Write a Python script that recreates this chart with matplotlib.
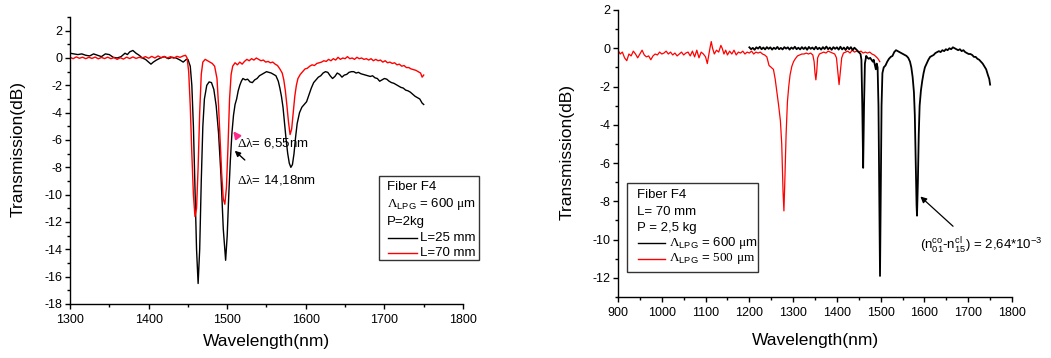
import matplotlib
matplotlib.use("Agg")
import matplotlib.pyplot as plt
from matplotlib.patches import Rectangle
from matplotlib.lines import Line2D
from matplotlib.ticker import MultipleLocator

plt.rcParams['font.family'] = ['Liberation Sans', 'DejaVu Sans']
plt.rcParams['axes.unicode_minus'] = False
plt.rcParams['mathtext.fontset'] = 'custom'
plt.rcParams['mathtext.rm'] = 'Liberation Sans'
plt.rcParams['mathtext.it'] = 'Liberation Sans:italic'
plt.rcParams['mathtext.sf'] = 'Liberation Sans'
plt.rcParams['mathtext.cal'] = 'Liberation Serif'

# ---------------- Left panel data (Fiber F4, P=2kg) ----------------
wl_L25 = [1300, 1305, 1310, 1315, 1320, 1325, 1330, 1335, 1340, 1345, 1350, 1355, 1360, 1365,
          1370, 1373, 1376, 1380, 1384, 1388, 1392, 1396, 1400, 1403, 1406, 1410, 1415, 1420,
          1425, 1430, 1435, 1440, 1444, 1448, 1450, 1453, 1455, 1457, 1459, 1461, 1463, 1465,
          1467, 1469, 1471, 1474, 1477, 1480, 1483, 1486, 1489, 1492, 1495, 1498, 1500, 1502,
          1504, 1506, 1508, 1510, 1512, 1514, 1516, 1518, 1520, 1523, 1526, 1529, 1532, 1535,
          1538, 1541, 1544, 1547, 1550, 1553, 1556, 1559, 1562, 1565, 1567, 1569, 1571, 1573,
          1575, 1577, 1579, 1581, 1583, 1585, 1587, 1589, 1592, 1595, 1598, 1601, 1604, 1607,
          1610, 1613, 1616, 1619, 1622, 1625, 1628, 1631, 1634, 1637, 1640, 1643, 1646, 1649,
          1652, 1655, 1658, 1661, 1664, 1667, 1670, 1673, 1676, 1679, 1682, 1685, 1688, 1691,
          1694, 1697, 1700, 1703, 1706, 1709, 1712, 1715, 1718, 1721, 1724, 1727, 1730, 1733,
          1736, 1739, 1742, 1745, 1748, 1750]
tr_L25 = [0.35, 0.3, 0.25, 0.3, 0.2, 0.15, 0.3, 0.2, 0.1, 0.3, 0.25, 0.05, 0.0, 0.1,
          0.35, 0.25, 0.45, 0.55, 0.35, 0.2, 0.0, -0.1, -0.3, -0.45, -0.3, -0.15, 0.0, 0.1,
          -0.05, 0.05, 0.0, -0.15, -0.3, -0.1, -0.1, -0.6, -2.0, -5.0, -9.5, -14.0, -16.5, -14.0,
          -9.0, -5.0, -3.0, -2.0, -1.75, -1.8, -2.3, -3.5, -5.5, -8.5, -12.5, -14.8, -13.0, -10.0,
          -7.5, -5.5, -4.2, -3.4, -3.0, -2.4, -2.0, -1.7, -1.5, -1.6, -1.55, -1.75, -1.8, -1.6,
          -1.5, -1.3, -1.2, -1.1, -1.0, -1.05, -1.1, -1.2, -1.3, -1.7, -2.2, -2.8, -3.6, -4.8,
          -6.0, -7.0, -7.7, -8.0, -7.8, -7.0, -5.8, -4.8, -4.0, -3.6, -3.4, -3.2, -2.7, -2.2,
          -1.8, -1.6, -1.4, -1.3, -1.1, -1.0, -1.05, -1.3, -1.5, -1.35, -1.1, -1.2, -1.4, -1.25,
          -1.2, -1.05, -1.0, -1.0, -1.1, -1.05, -1.15, -1.2, -1.25, -1.3, -1.35, -1.3, -1.45, -1.5,
          -1.7, -1.6, -1.5, -1.55, -1.7, -1.8, -1.85, -1.95, -2.05, -2.15, -2.2, -2.35, -2.4, -2.5,
          -2.65, -2.8, -2.9, -3.0, -3.3, -3.4]

wl_L70 = [1300, 1304, 1308, 1312, 1316, 1320, 1324, 1328, 1332, 1336, 1340, 1344, 1348, 1352,
          1356, 1360, 1364, 1368, 1372, 1376, 1380, 1384, 1388, 1392, 1396, 1400, 1404, 1408,
          1412, 1416, 1420, 1424, 1428, 1432, 1436, 1440, 1444, 1447, 1449, 1451, 1453, 1455,
          1457, 1459, 1461, 1463, 1465, 1467, 1469, 1472, 1475, 1478, 1481, 1484, 1487, 1489,
          1491, 1493, 1495, 1497, 1499, 1501, 1503, 1505, 1507, 1510, 1513, 1516, 1519, 1522,
          1525, 1528, 1531, 1534, 1537, 1540, 1543, 1546, 1549, 1552, 1555, 1558, 1561, 1564,
          1567, 1570, 1572, 1574, 1576, 1578, 1580, 1582, 1584, 1586, 1588, 1590, 1593, 1596,
          1599, 1602, 1605, 1608, 1611, 1614, 1617, 1620, 1623, 1626, 1629, 1632, 1635, 1638,
          1641, 1644, 1647, 1650, 1653, 1656, 1659, 1662, 1665, 1668, 1671, 1674, 1677, 1680,
          1683, 1686, 1689, 1692, 1695, 1698, 1701, 1704, 1707, 1710, 1713, 1716, 1719, 1722,
          1725, 1728, 1731, 1734, 1737, 1740, 1743, 1746, 1748, 1750]
tr_L70 = [0.05, -0.05, 0.08, -0.02, 0.06, -0.05, 0.05, -0.03, 0.07, -0.06, 0.04, -0.04, 0.06, -0.05,
          0.03, -0.1, 0.02, -0.08, 0.06, -0.04, 0.08, -0.03, 0.05, 0.0, 0.1, -0.02, 0.12, 0.0,
          0.15, 0.02, 0.12, 0.0, 0.1, -0.02, 0.12, 0.05, 0.15, 0.2, 0.0, -1.0, -3.5, -7.0,
          -10.0, -11.6, -11.0, -8.0, -4.0, -1.2, -0.3, -0.1, -0.2, -0.3, -0.4, -0.6, -1.5, -3.5,
          -6.0, -8.5, -10.3, -10.7, -9.5, -6.5, -3.0, -1.2, -0.6, -0.35, -0.5, -0.3, -0.45, -0.25,
          -0.1, -0.2, -0.05, -0.15, 0.0, -0.1, -0.2, -0.15, -0.3, -0.25, -0.35, -0.3, -0.45, -0.55,
          -0.8, -1.1, -1.6, -2.4, -3.5, -4.7, -5.6, -5.2, -4.0, -2.8, -2.0, -1.5, -1.2, -1.0,
          -0.8, -0.75, -0.6, -0.5, -0.55, -0.4, -0.35, -0.3, -0.2, -0.25, -0.1, -0.2, -0.05, -0.15,
          0.05, -0.1, 0.0, -0.05, 0.1, -0.05, 0.0, -0.1, 0.05, -0.05, 0.0, -0.1, -0.05, -0.15,
          -0.05, -0.2, -0.1, -0.2, -0.15, -0.3, -0.2, -0.35, -0.3, -0.4, -0.35, -0.5, -0.45, -0.6,
          -0.55, -0.7, -0.7, -0.8, -0.85, -0.9, -1.0, -1.1, -1.4, -1.25]

# ---------------- Right panel data (Fiber F4, L=70 mm, P=2,5 kg) ----------------
wl_P600 = [1200, 1204, 1208, 1212, 1216, 1220, 1224, 1228, 1232, 1236, 1240, 1244, 1248, 1252,
           1256, 1260, 1264, 1268, 1272, 1276, 1280, 1284, 1288, 1292, 1296, 1300, 1304, 1308,
           1312, 1316, 1320, 1324, 1328, 1332, 1336, 1340, 1344, 1348, 1352, 1356, 1360, 1364,
           1368, 1372, 1376, 1380, 1384, 1388, 1392, 1396, 1400, 1404, 1408, 1412, 1416, 1420,
           1424, 1428, 1432, 1436, 1440, 1445, 1450, 1454, 1456, 1458, 1460, 1462, 1464, 1467,
           1470, 1473, 1476, 1479, 1482, 1484, 1487, 1489, 1491, 1493, 1495, 1497, 1498.5, 1500,
           1502, 1504, 1507, 1511, 1515, 1519, 1523, 1527, 1531, 1535, 1539, 1543, 1547, 1551,
           1555, 1559, 1563, 1567, 1570, 1573, 1576, 1578, 1580, 1582, 1583, 1585, 1587, 1589,
           1592, 1595, 1598, 1601, 1605, 1609, 1613, 1617, 1621, 1625, 1629, 1633, 1637, 1641,
           1645, 1649, 1653, 1657, 1661, 1665, 1669, 1673, 1677, 1681, 1685, 1689, 1693, 1697,
           1701, 1705, 1709, 1713, 1717, 1721, 1725, 1729, 1733, 1737, 1741, 1745, 1748, 1750]
tr_P600 = [0.05, -0.05, 0.02, -0.08, 0.05, -0.02, 0.08, -0.05, 0.04, -0.06, 0.06, -0.03, 0.05, -0.07,
           0.03, -0.04, 0.07, -0.05, 0.02, -0.06, 0.06, -0.02, 0.05, -0.07, 0.04, -0.03, 0.08, -0.05,
           0.03, -0.06, 0.06, -0.04, 0.05, -0.08, 0.07, -0.03, 0.04, -0.06, 0.08, -0.05, 0.03, -0.07,
           0.06, -0.04, 0.09, -0.05, 0.04, -0.08, 0.06, -0.03, 0.05, -0.07, 0.08, -0.06, 0.04, -0.09,
           0.07, -0.05, 0.06, -0.1, 0.03, -0.08, -0.2, -0.3, -0.6, -3.0, -6.25, -3.0, -0.8, -0.4,
           -0.5, -0.55, -0.5, -0.6, -0.7, -0.6, -0.9, -1.1, -0.8, -1.0, -3.0, -8.0, -11.9, -8.0,
           -3.0, -1.3, -1.0, -0.9, -0.7, -0.55, -0.45, -0.4, -0.2, -0.1, -0.15, -0.2, -0.25, -0.3,
           -0.35, -0.4, -0.5, -0.7, -1.0, -1.5, -2.3, -3.5, -6.0, -8.2, -8.75, -7.0, -4.5, -3.0,
           -2.2, -1.7, -1.3, -1.0, -0.8, -0.6, -0.45, -0.4, -0.35, -0.25, -0.2, -0.15, -0.2, -0.1,
           -0.15, -0.05, -0.1, 0.0, -0.05, 0.05, 0.0, -0.05, -0.1, -0.05, -0.15, -0.1, -0.2, -0.25,
           -0.3, -0.3, -0.35, -0.45, -0.45, -0.55, -0.6, -0.7, -0.8, -0.95, -1.1, -1.4, -1.6, -1.9]

wl_P500 = [900, 905, 910, 915, 920, 925, 930, 935, 940, 945, 950, 955, 960, 965, 970, 975, 980,
           985, 990, 995, 1000, 1005, 1010, 1015, 1020, 1025, 1030, 1035, 1040, 1045, 1050, 1055,
           1060, 1065, 1070, 1075, 1080, 1085, 1090, 1095, 1100, 1104, 1107, 1110, 1113, 1116,
           1120, 1125, 1130, 1135, 1138, 1142, 1146, 1150, 1155, 1160, 1165, 1170, 1175, 1180,
           1185, 1190, 1195, 1200, 1205, 1210, 1215, 1220, 1225, 1230, 1235, 1240, 1245, 1250,
           1255, 1259, 1263, 1267, 1271, 1274, 1277, 1279, 1281, 1284, 1287, 1290, 1293, 1297,
           1301, 1305, 1310, 1315, 1320, 1325, 1330, 1335, 1340, 1345, 1348, 1350, 1352, 1354,
           1356, 1360, 1365, 1370, 1375, 1380, 1385, 1390, 1395, 1399, 1402, 1405, 1408, 1411,
           1415, 1420, 1425, 1430, 1435, 1440, 1445, 1450, 1455, 1460, 1465, 1470, 1475, 1480,
           1485, 1490, 1494, 1498]
tr_P500 = [-0.1, -0.3, -0.2, -0.5, -0.65, -0.3, -0.4, -0.15, -0.3, -0.5, -0.3, -0.1, -0.35, -0.45,
           -0.4, -0.6, -0.4, -0.3, -0.35, -0.2, -0.3, -0.25, -0.15, -0.3, -0.2, -0.35, -0.25, -0.4,
           -0.3, -0.2, -0.35, -0.25, -0.2, -0.4, -0.15, -0.45, -0.1, -0.5, -0.2, -0.3, -0.45, -0.8,
           -0.4, 0.0, 0.35, 0.0, -0.3, -0.1, -0.2, 0.15, 0.0, -0.3, -0.1, -0.35, -0.15, -0.3,
           -0.1, -0.35, -0.2, -0.25, -0.15, -0.3, -0.2, -0.25, -0.15, -0.3, -0.2, -0.25, -0.2, -0.3,
           -0.35, -0.45, -0.9, -1.0, -1.1, -1.6, -2.3, -3.0, -3.8, -5.0, -7.5, -8.5, -7.0, -4.5,
           -2.8, -2.0, -1.4, -0.95, -0.7, -0.55, -0.4, -0.35, -0.3, -0.3, -0.25, -0.3, -0.25, -0.35,
           -0.7, -1.3, -1.65, -1.2, -0.5, -0.3, -0.25, -0.2, -0.25, -0.15, -0.2, -0.25, -0.3, -0.5,
           -1.2, -1.9, -1.2, -0.5, -0.25, -0.2, -0.15, -0.25, -0.1, -0.2, -0.15, -0.2, -0.15, -0.25,
           -0.2, -0.25, -0.2, -0.3, -0.35, -0.45, -0.55, -0.7]

W, H = 1051, 358
fig = plt.figure(figsize=(W / 100, H / 100), dpi=100)


def frac_rect(x0, y0, x1, y1):
    return [x0 / W, 1 - y1 / H, (x1 - x0) / W, (y1 - y0) / H]


def fx(px):
    return px / W


def fy(py):
    return 1 - py / H


def style_axes(ax, xmaj, xmin, ymaj, ymin, xlab_pos, ylab_pos):
    for s in ['top', 'right']:
        ax.spines[s].set_visible(False)
    for s in ['left', 'bottom']:
        ax.spines[s].set_linewidth(1.0)
    ax.xaxis.set_major_locator(MultipleLocator(xmaj))
    ax.xaxis.set_minor_locator(MultipleLocator(xmin))
    ax.yaxis.set_major_locator(MultipleLocator(ymaj))
    ax.yaxis.set_minor_locator(MultipleLocator(ymin))
    ax.tick_params(which='major', direction='out', length=3.5, width=1, labelsize=9)
    ax.tick_params(which='minor', direction='out', length=2.2, width=1)
    ax.tick_params(axis='x', which='major', pad=4)
    ax.tick_params(axis='y', which='major', pad=2)
    ax.set_xlabel('Wavelength(nm)', fontsize=12.5)
    ax.set_ylabel('Transmission(dB)', fontsize=12.5)
    ax.xaxis.set_label_coords(*xlab_pos)
    ax.yaxis.set_label_coords(*ylab_pos)
    ax.xaxis.label.set_va('center')
    ax.yaxis.label.set_va('center')
    ax.yaxis.label.set_ha('center')


# ---------- Left axes ----------
ax1 = fig.add_axes(frac_rect(70, 17, 463, 304))
ax1.plot(wl_L25, tr_L25, color='black', lw=1.0)
ax1.plot(wl_L70, tr_L70, color='red', lw=1.0)
ax1.set_xlim(1300, 1800)
ax1.set_ylim(-18, 3)
style_axes(ax1, 100, 50, 2, 1, (0.499, -0.132), (-0.132, 0.54))

ax1.annotate('', xy=(1505.5, -5.2), xytext=(1515, -5.9),
             arrowprops=dict(arrowstyle='-|>', color='#ff2a8a', lw=1.5, mutation_scale=10))
ax1.text(1513, -6.2, r'$\mathcal{\Delta\lambda}$= 6,55nm', fontsize=9.5, va='center', ha='left')
ax1.annotate('', xy=(1507, -6.65), xytext=(1525, -7.6),
             arrowprops=dict(arrowstyle='-|>', color='black', lw=1.0, mutation_scale=8))
ax1.text(1513, -8.9, r'$\mathcal{\Delta\lambda}$= 14,18nm', fontsize=9.5, va='center', ha='left')

# left legend box
fig.add_artist(Rectangle((fx(379), fy(260)), fx(479) - fx(379), fy(176) - fy(260),
                         transform=fig.transFigure, fill=False, ec='#333333', lw=1.0))
fig.text(fx(387), fy(187), 'Fiber F4', fontsize=9.5, va='center')
fig.text(fx(387), fy(204), r'$\mathcal{\Lambda}_{\mathrm{LPG}}$ = 600 $\mathcal{\mu}$m', fontsize=9.5, va='center')
fig.text(fx(387), fy(222), 'P=2kg', fontsize=9.5, va='center')
fig.add_artist(Line2D([fx(388), fx(417)], [fy(238), fy(238)], color='black', lw=1.0,
                      transform=fig.transFigure))
fig.text(fx(420), fy(238), 'L=25 mm', fontsize=9.5, va='center')
fig.add_artist(Line2D([fx(388), fx(417)], [fy(253), fy(253)], color='red', lw=1.0,
                      transform=fig.transFigure))
fig.text(fx(420), fy(253), 'L=70 mm', fontsize=9.5, va='center')

# ---------- Right axes ----------
ax2 = fig.add_axes(frac_rect(618, 10, 1012, 297))
ax2.plot(wl_P500, tr_P500, color='red', lw=0.9)
ax2.plot(wl_P600, tr_P600, color='black', lw=1.3)
ax2.set_xlim(900, 1800)
ax2.set_ylim(-13, 2)
style_axes(ax2, 100, 50, 2, 1, (0.5, -0.15), (-0.129, 0.505))

ax2.annotate('', xy=(1586, -7.65), xytext=(1670, -9.4),
             arrowprops=dict(arrowstyle='-|>', color='black', lw=0.9, mutation_scale=9))
ax2.text(1590, -10.35,
         r'$(\mathrm{n}_{01}^{\mathrm{co}}$-$\mathrm{n}_{15}^{\mathrm{cl}})$ = 2,64*10$^{-3}$',
         fontsize=9.5, va='center', ha='left')

fig.add_artist(Rectangle((fx(627), fy(272)), fx(758) - fx(627), fy(183) - fy(272),
                         transform=fig.transFigure, fill=False, ec='#333333', lw=1.0))
fig.text(fx(637), fy(195), 'Fiber F4', fontsize=9.5, va='center')
fig.text(fx(637), fy(212), 'L= 70 mm', fontsize=9.5, va='center')
fig.text(fx(637), fy(228), 'P = 2,5 kg', fontsize=9.5, va='center')
fig.add_artist(Line2D([fx(638), fx(665)], [fy(243), fy(243)], color='black', lw=1.0,
                      transform=fig.transFigure))
fig.text(fx(669), fy(243), r'$\mathcal{\Lambda}_{\mathrm{LPG}}$ = 600 $\mathcal{\mu}$m', fontsize=9.5, va='center')
fig.add_artist(Line2D([fx(638), fx(665)], [fy(259), fy(259)], color='red', lw=1.0,
                      transform=fig.transFigure))
fig.text(fx(669), fy(259), r'$\mathcal{\Lambda}_{\mathrm{LPG}}$ = $\mathcal{500\ \mu m}$', fontsize=9.5, va='center')

fig.savefig('out.png', dpi=100)
